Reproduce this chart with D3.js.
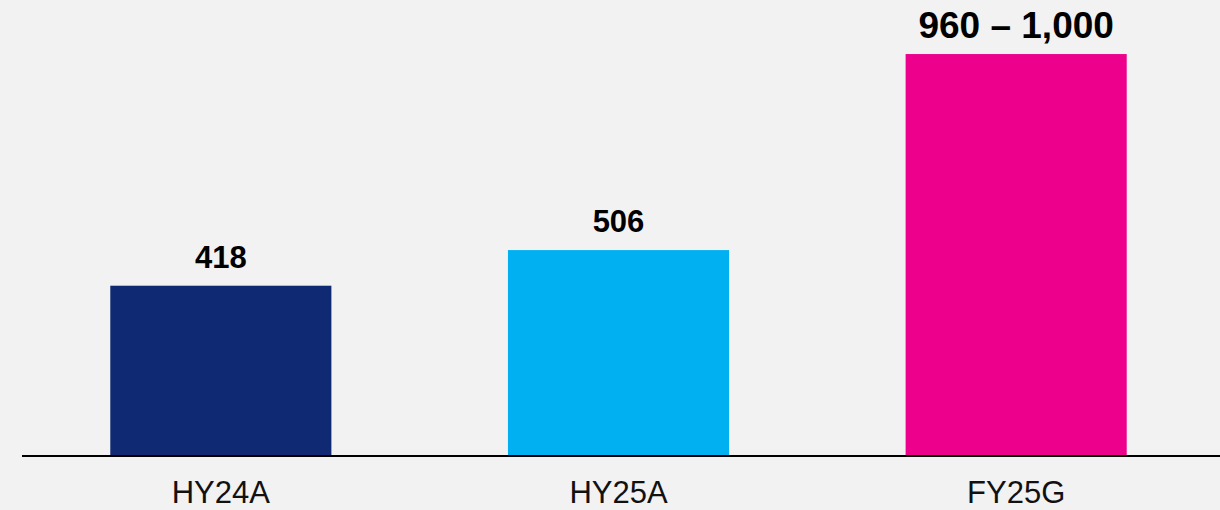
<!DOCTYPE html>
<html>
<head>
<meta charset="utf-8">
<script src="https://cdn.jsdelivr.net/npm/d3@7"></script>
<style>
    html, body { margin: 0; padding: 0; background: #f2f2f2; }
    svg { display: block; font-family: "Liberation Sans", Arial, sans-serif; }
</style>
</head>
<body>
<svg id="chart"></svg>
<script>
const categories = ["HY24A", "HY25A", "FY25G"];
const values = [418, 506, 990];
const valueLabels = ["418", "506", "960 \u2013 1,000"];
const barColors = ["#0f2a72", "#00b0f0", "#ec008c"];

const width = 1220;
const height = 510;
const baseline = 455;

const svg = d3.select("#chart")
    .attr("width", width)
    .attr("height", height);

svg.append("rect")
    .attr("width", width)
    .attr("height", height)
    .attr("fill", "#f2f2f2");

const xScale = d3.scaleBand()
    .domain(categories)
    .range([22, 1215])
    .paddingInner(0.444)
    .paddingOuter(0.222);

const yScale = d3.scaleLinear()
    .domain([0, 1000])
    .range([baseline, 50]);

// Bars
svg.selectAll(".bar")
    .data(categories)
    .enter()
    .append("rect")
    .attr("class", "bar")
    .attr("x", d => xScale(d))
    .attr("y", (d, i) => yScale(values[i]))
    .attr("width", xScale.bandwidth())
    .attr("height", (d, i) => baseline - yScale(values[i]))
    .attr("fill", (d, i) => barColors[i]);

// Value labels
svg.selectAll(".value")
    .data(categories)
    .enter()
    .append("text")
    .attr("class", "value")
    .attr("x", d => xScale(d) + xScale.bandwidth() / 2)
    .attr("y", (d, i) => yScale(values[i]) - (i === 2 ? 16 : 18))
    .attr("text-anchor", "middle")
    .attr("font-weight", "bold")
    .attr("font-size", (d, i) => i === 2 ? 37 : 31)
    .attr("fill", "#000")
    .text((d, i) => valueLabels[i]);

// X axis
const xAxis = svg.append("g")
    .attr("transform", `translate(0,${baseline + 1})`)
    .call(d3.axisBottom(xScale).tickSize(0).tickPadding(0));

xAxis.select(".domain").remove();
xAxis.append("line")
    .attr("x1", 22)
    .attr("x2", width)
    .attr("stroke", "#000")
    .attr("stroke-width", 2);

xAxis.selectAll("text")
    .attr("dy", null)
    .attr("y", 47)
    .attr("font-family", "'Liberation Sans', Arial, sans-serif")
    .attr("font-size", 31)
    .attr("fill", "#111");
</script>
</body>
</html>
